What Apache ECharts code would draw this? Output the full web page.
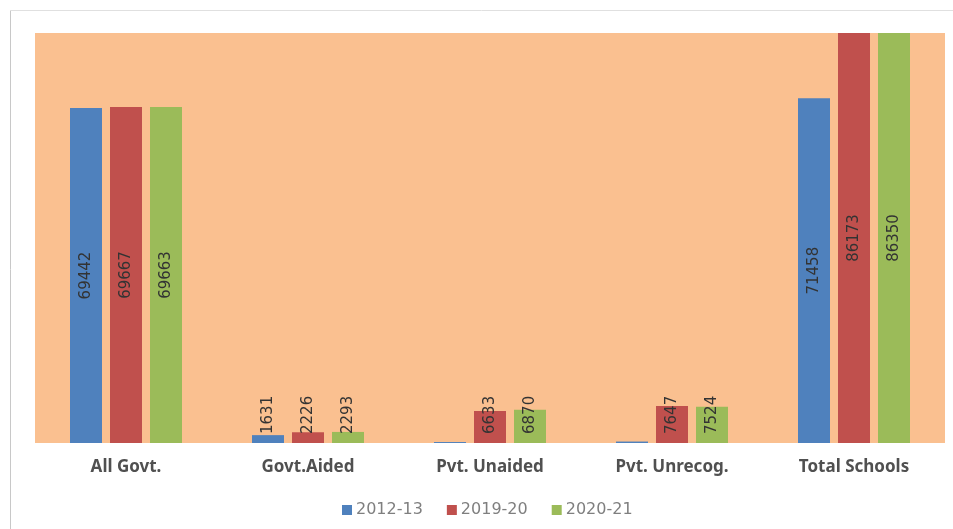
<!DOCTYPE html>
<html>
<head>
<meta charset="utf-8">
<script src="https://cdn.jsdelivr.net/npm/echarts@6/dist/echarts.min.js"></script>
<style>
	html, body { margin: 0; padding: 0; background: #fff; }
	#main { width: 953px; height: 529px; }
</style>
</head>
<body>
<div id="main"></div>
<script>
var categories = ['All Govt.', 'Govt.Aided', 'Pvt. Unaided', 'Pvt. Unrecog.', 'Total Schools'];
var years = ['2012-13', '2019-20', '2020-21'];
var s2012 = [69442, 1631, 200, 300, 71458];
var s2019 = [69667, 2226, 6633, 7647, 86173];
var s2020 = [69663, 2293, 6870, 7524, 86350];
var colors = ['#4F81BD', '#C0504D', '#9BBB59'];

function buildData(arr) {
	var out = [];
	for(var i = 0; i < arr.length; i++) {
		var v = arr[i];
		var item = { value: v };
		if(v < 1000) {
			item.label = { show: false };
		} else if(v < 10000) {
			// short bars: text starts just above the baseline
			item.label = {
				show: true,
				position: 'insideBottom',
				rotate: 90,
				align: 'left',
				verticalAlign: 'middle',
				distance: 9
			};
		}
		out.push(item);
	}
	return out;
}

function makeSeries(name, arr, color) {
	return {
		name: name,
		type: 'bar',
		data: buildData(arr),
		barWidth: 32,
		barGap: '25%',
		itemStyle: { color: color },
		clip: true,
		label: {
			show: true,
			position: 'inside',
			rotate: 90,
			color: '#333',
			fontSize: 15,
			fontFamily: 'DejaVu Sans'
		}
	};
}

var mychart = echarts.init(document.getElementById('main'));
var option = {
	backgroundColor: '#fff',
	animation: false,
	graphic: [
		{ type: 'line', shape: { x1: 10.5, y1: 10, x2: 10.5, y2: 529 }, style: { stroke: '#c8c8c8', lineWidth: 1 } },
		{ type: 'line', shape: { x1: 10, y1: 10.5, x2: 953, y2: 10.5 }, style: { stroke: '#e0e0e0', lineWidth: 1 } }
	],
	grid: {
		left: 35,
		right: 8,
		top: 33,
		bottom: 86,
		show: true,
		backgroundColor: '#FAC090',
		borderWidth: 0
	},
	legend: {
		data: years,
		bottom: 6,
		left: 337,
		itemWidth: 10,
		itemHeight: 10,
		itemGap: 24,
		icon: 'rect',
		textStyle: { color: '#7f7f7f', fontSize: 16, fontFamily: 'DejaVu Sans', padding: [0, 0, 0, -1] }
	},
	xAxis: {
		type: 'category',
		data: categories,
		axisLine: { show: false },
		axisTick: { show: false },
		axisLabel: {
			color: '#505050',
			fontSize: 17,
			fontWeight: 'bold',
			fontFamily: 'Noto Sans',
			margin: 16
		}
	},
	yAxis: {
		type: 'value',
		min: 0,
		max: 85000,
		show: false,
		splitLine: { show: false }
	},
	series: [
		makeSeries(years[0], s2012, colors[0]),
		makeSeries(years[1], s2019, colors[1]),
		makeSeries(years[2], s2020, colors[2])
	]
};
mychart.setOption(option);
</script>
</body>
</html>
